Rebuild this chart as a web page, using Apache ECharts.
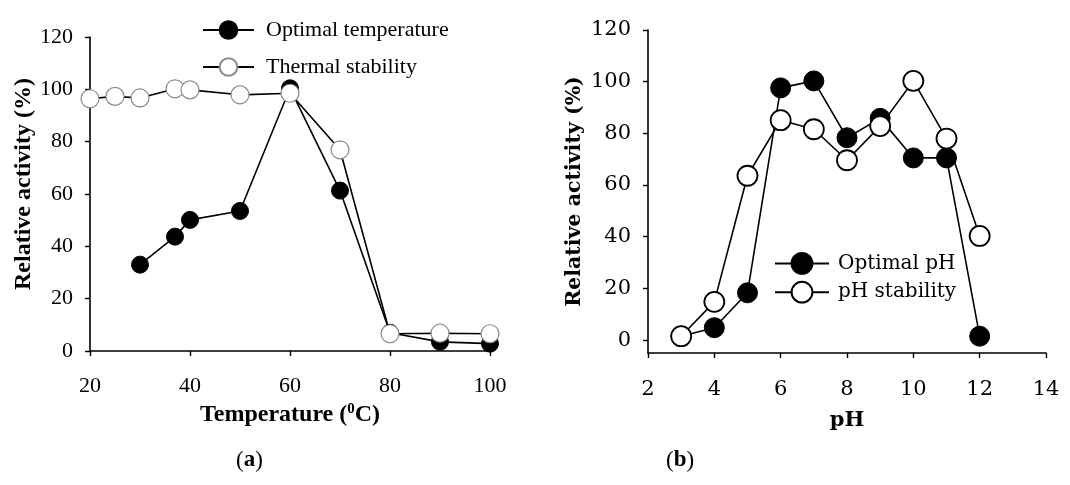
<!DOCTYPE html>
<html>
<head>
<meta charset="utf-8">
<script src="https://cdn.jsdelivr.net/npm/echarts@6/dist/echarts.min.js"></script>
<style>html,body{margin:0;padding:0;background:#fff}#c{width:1070px;height:485px}</style>
</head>
<body>
<div id="c"></div>
<script>
// ---- data ----
const tempOptX = [30, 37, 40, 50, 60, 70, 80, 90, 100];
const tempOptY = [33, 43.7, 50.1, 53.5, 100.4, 61.3, 7, 3.5, 2.8];
const tempStabX = [20, 25, 30, 37, 40, 50, 60, 70, 80, 90, 100];
const tempStabY = [96.4, 97.3, 96.7, 100.2, 99.8, 97.9, 98.5, 76.9, 6.6, 6.8, 6.6];
const pHX = [3, 4, 5, 6, 7, 8, 9, 10, 11, 12];
const pHOptY = [1.5, 4.8, 18.3, 97.6, 100.3, 78.3, 85.8, 70.5, 70.5, 1.5];
const pHStabY = [1.5, 14.8, 63.6, 85.1, 81.6, 69.6, 82.8, 100.3, 78, 40.3];
const yTicks = [0, 20, 40, 60, 80, 100, 120];
const names = ['Optimal temperature', 'Thermal stability', 'Optimal pH', 'pH stability'];

const pairs = (xs, ys) => xs.map((x, i) => [x, ys[i]]);
const LS = 'Liberation Serif';
const DS = 'DejaVu Serif';

const chart = echarts.init(document.getElementById('c'), null, {renderer: 'canvas'});
const axisCommon = {
  axisLine: {show: true, onZero: false, lineStyle: {color: '#000', width: 1.6}},
  axisTick: {show: true, inside: false, length: 5, lineStyle: {color: '#000', width: 1.4}},
  splitLine: {show: false}
};
chart.setOption({
  animation: false,
  backgroundColor: '#fff',
  grid: [
    {left: 90, top: 37, width: 400, height: 314},
    {left: 648, top: 30, width: 398, height: 323}
  ],
  xAxis: [
    Object.assign({}, axisCommon, {
      gridIndex: 0, type: 'value', min: 20, max: 100, interval: 20,
      axisLabel: {margin: 24, color: '#000', fontFamily: LS, fontSize: 22},
      name: '{t|Temperature (}{s|0}{t|C)}', nameLocation: 'middle', nameGap: 41,
      nameTextStyle: {rich: {
        t: {fontFamily: LS, fontWeight: 'bold', fontSize: 24, color: '#000', lineHeight: 26},
        s: {fontFamily: LS, fontWeight: 'bold', fontSize: 15, color: '#000', lineHeight: 16, verticalAlign: 'top'}
      }}
    }),
    Object.assign({}, axisCommon, {
      gridIndex: 1, type: 'value', min: 2, max: 14, interval: 2,
      axisLabel: {margin: 26, color: '#000', fontFamily: DS, fontSize: 21},
      name: 'pH', nameLocation: 'middle', nameGap: 57,
      nameTextStyle: {fontFamily: DS, fontWeight: 'bold', fontSize: 21, color: '#000'}
    })
  ],
  yAxis: [
    Object.assign({}, axisCommon, {
      gridIndex: 0, type: 'value', min: 0, max: 120, interval: 20,
      axisLabel: {margin: 17, color: '#000', fontFamily: LS, fontSize: 22},
      name: 'Relative activity (%)', nameLocation: 'middle', nameGap: 53,
      nameTextStyle: {fontFamily: LS, fontWeight: 'bold', fontSize: 24, color: '#000', padding: [0, 0, 0, 20]}
    }),
    Object.assign({}, axisCommon, {
      gridIndex: 1, type: 'value', min: -5, max: 120,
      axisTick: {show: true, length: 5, customValues: yTicks, lineStyle: {color: '#000', width: 1.4}},
      axisLabel: {margin: 17, color: '#000', fontFamily: DS, fontSize: 21, customValues: yTicks},
      name: 'Relative activity (%)', nameLocation: 'middle', nameGap: 63,
      nameTextStyle: {fontFamily: DS, fontWeight: 'bold', fontSize: 20.5, color: '#000'}
    })
  ],
  legend: [
    {data: [names[0], names[1]], orient: 'vertical', left: 197, top: 14,
     itemWidth: 51, itemHeight: 22, itemGap: 15,
     textStyle: {fontFamily: LS, fontSize: 22, color: '#000', padding: [0, 0, 0, 7]}},
    {data: [names[2], names[3]], orient: 'vertical', left: 769, top: 247,
     itemWidth: 54, itemHeight: 26, itemGap: 6,
     textStyle: {fontFamily: DS, fontSize: 20, color: '#000', padding: [0, 0, 0, 4]}}
  ],
  series: [
    {name: names[0], type: 'line', xAxisIndex: 0, yAxisIndex: 0, data: pairs(tempOptX, tempOptY),
     symbol: 'circle', symbolSize: 17, lineStyle: {color: '#000', width: 1.6},
     itemStyle: {color: '#000', borderColor: '#000', borderWidth: 1}},
    {name: names[1], type: 'line', xAxisIndex: 0, yAxisIndex: 0, data: pairs(tempStabX, tempStabY),
     symbol: 'circle', symbolSize: 18, lineStyle: {color: '#000', width: 1.6},
     itemStyle: {color: '#fff', borderColor: '#8a8a8a', borderWidth: 1.2}},
    {name: names[2], type: 'line', xAxisIndex: 1, yAxisIndex: 1, data: pairs(pHX, pHOptY),
     symbol: 'circle', symbolSize: 20, lineStyle: {color: '#000', width: 1.6},
     itemStyle: {color: '#000', borderColor: '#000', borderWidth: 1}},
    {name: names[3], type: 'line', xAxisIndex: 1, yAxisIndex: 1, data: pairs(pHX, pHStabY),
     symbol: 'circle', symbolSize: 20, lineStyle: {color: '#000', width: 1.6},
     itemStyle: {color: '#fff', borderColor: '#000', borderWidth: 1.8}}
  ],
  graphic: [
    {type: 'text', left: 236, top: 449, style: {
      text: '{r|(}{b|a}{r|)}', rich: {
        r: {fontFamily: LS, fontSize: 23, color: '#000'},
        b: {fontFamily: LS, fontSize: 23, fontWeight: 'bold', color: '#000'}}}},
    {type: 'text', left: 666, top: 449, style: {
      text: '{r|(}{b|b}{r|)}', rich: {
        r: {fontFamily: LS, fontSize: 23, color: '#000'},
        b: {fontFamily: LS, fontSize: 23, fontWeight: 'bold', color: '#000'}}}}
  ]
});
</script>
</body>
</html>
